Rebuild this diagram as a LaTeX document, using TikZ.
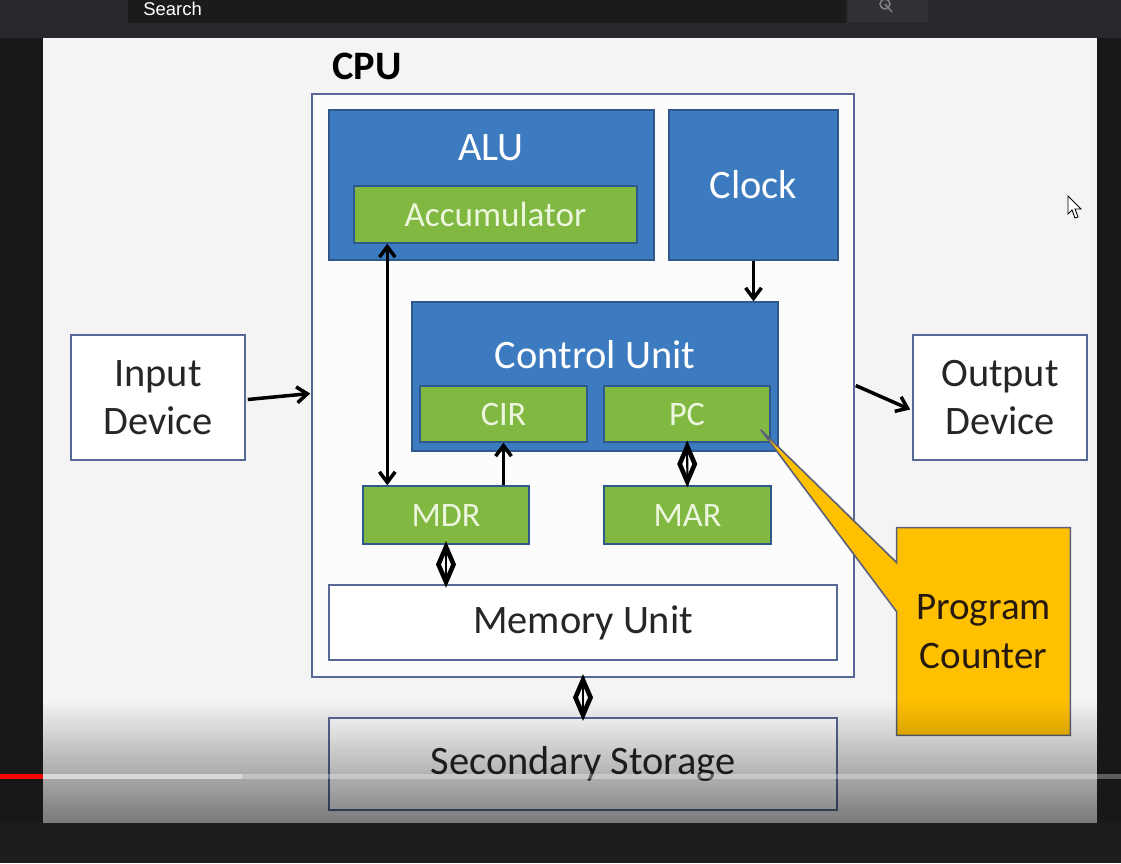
\documentclass[tikz,border=0pt]{standalone}
\usepackage{fontspec}
\setmainfont{Carlito}
\newfontfamily\uifont{Liberation Sans}
\usepackage{tikz}
\usetikzlibrary{shapes.geometric, arrows.meta, positioning, calc, fadings}
\definecolor{ytdark}{RGB}{29,29,31}
\definecolor{ytside}{RGB}{24,24,24}
\definecolor{ytbar}{RGB}{40,40,44}
\definecolor{searchbg}{RGB}{27,27,27}
\definecolor{searchbtn}{RGB}{50,50,54}
\definecolor{slidebg}{RGB}{244,244,244}
\definecolor{unitblue}{RGB}{61,123,192}
\definecolor{unitedge}{RGB}{47,88,140}
\definecolor{reggreen}{RGB}{128,184,66}
\definecolor{regtext}{RGB}{236,246,220}
\definecolor{plainedge}{RGB}{88,104,150}
\definecolor{noteorange}{RGB}{255,192,0}
\definecolor{noteedge}{RGB}{90,96,120}
\tikzfading[name=videofade, top color=transparent!100, bottom color=transparent!50]

\begin{document}
\begin{tikzpicture}[x=0.02cm, y=-0.02cm,
  unitbox/.style={rectangle, draw=unitedge, line width=0.8pt, fill=unitblue,
                  text=white, font=\fontsize{23}{27.5}\selectfont, inner sep=0pt},
  regbox/.style={rectangle, draw=unitedge, line width=0.8pt, fill=reggreen,
                 text=regtext, font=\fontsize{19.5}{23}\selectfont, inner sep=0pt},
  plainbox/.style={rectangle, draw=plainedge, line width=0.9pt, fill=white,
                   text=black!85, font=\fontsize{23}{27.5}\selectfont,
                   align=center, inner sep=0pt},
  arr/.style={-{Straight Barb[length=6pt, width=9pt]}, line width=2pt},
  dblarr/.style={{Straight Barb[length=6pt, width=9pt]}-{Straight Barb[length=6pt, width=9pt]},
                 line width=2pt},
  link/.style={line width=1.2pt},
  busmark/.style={diamond, draw, line width=2.6pt, minimum width=0.34cm,
                  minimum height=0.74cm, inner sep=0pt}
]
\useasboundingbox (0,0) rectangle (1121,863);

%% ── Video player frame ──────────────────────────────────────────────────
\fill[ytdark] (0,0) rectangle (1121,863);
\fill[ytbar] (0,0) rectangle (1121,38);
\fill[ytside] (0,38) rectangle (43,823);
\fill[ytside] (1097,38) rectangle (1121,823);
\fill[searchbg] (128,0) rectangle (846,23);
\fill[searchbtn] (848,0) rectangle (928,22);
\node[anchor=base west, text=white, font=\uifont\fontsize{10.5}{12}\selectfont, inner sep=0pt]
  (search) at (143,15) {Search};
\draw[gray, line width=0.9pt] (885,4) circle (0.1cm) -- (892,12);

%% ── Slide ───────────────────────────────────────────────────────────────
\fill[slidebg] (43,38) rectangle (1097,823);
\node[font=\bfseries\fontsize{23}{27}\selectfont] (cpulbl) at (367,66) {CPU};
\node[plainbox, fill=white!70!slidebg, minimum width=10.84cm, minimum height=11.66cm]
  (cpu) at (583,385.5) {};

\node[unitbox, minimum width=6.5cm, minimum height=3.0cm] (alu) at (491.5,185) {};
\node[text=white, font=\fontsize{23}{27.5}\selectfont] (alulbl) at (491,148) {ALU};
\node[regbox, font=\fontsize{20}{24}\selectfont, minimum width=5.66cm, minimum height=1.14cm]
  (acc) at (495.5,214.5) {Accumulator};
\node[unitbox, minimum width=3.38cm, minimum height=3.0cm] (clock) at (753.5,185) {Clock};

\node[unitbox, minimum width=7.32cm, minimum height=2.98cm] (cu) at (595,376.5) {};
\node[text=white, font=\fontsize{23}{27.5}\selectfont] (culbl) at (595,355) {Control Unit};
\node[regbox, minimum width=3.34cm, minimum height=1.12cm] (cir) at (503.5,414) {CIR};
\node[regbox, minimum width=3.32cm, minimum height=1.12cm] (pc)  at (687,414) {PC};

\node[regbox, minimum width=3.32cm, minimum height=1.16cm] (mdr) at (446,515) {MDR};
\node[regbox, minimum width=3.34cm, minimum height=1.16cm] (mar) at (687.5,515) {MAR};

\node[plainbox, minimum width=10.16cm, minimum height=1.5cm] (mem) at (583,622.5) {Memory Unit};
\node[plainbox, minimum width=10.16cm, minimum height=1.84cm] (sec) at (583,764) {Secondary Storage};

\node[plainbox, minimum width=3.48cm, minimum height=2.5cm] (in)  at (158,397.5) {Input\\Device};
\node[plainbox, minimum width=3.48cm, minimum height=2.5cm] (out) at (1000,397.5) {Output\\Device};

%% ── Connections ─────────────────────────────────────────────────────────
\coordinate (accdown) at ($(mdr.north west)+(25,0)$);
\draw[dblarr] (accdown |- acc.south) -- (accdown);
\draw[arr] (mdr.north -| cir.south) -- (cir.south);
\draw[arr] (clock.south) -- (clock.south |- cu.north);
\draw[link] (pc.south) -- (mar.north) node[midway, busmark] {};
\draw[link] (mdr.south) -- (mdr.south |- mem.north) node[midway, busmark] {};
\draw[link] (cpu.south) -- (sec.north) node[midway, busmark] {};
\draw[arr] ($(in.east)+(2,2)$) -- ($(cpu.west)+(-1,8)$);
\draw[arr] ($(cpu.east)+(1,0)$) -- ($(out.west)+(-2,12)$);

%% ── Callout ─────────────────────────────────────────────────────────────
\node[rectangle, fill=noteorange, text=black!80!brown, minimum width=3.46cm,
      minimum height=4.14cm, align=center, inner sep=0pt,
      font=\fontsize{22.2}{27.5}\selectfont] (pcnote) at (983.5,631.5) {Program\\Counter};
\coordinate (pctip) at ($(pc.south east)+(-10,-13)$);
\fill[noteorange] (pctip) -- ($(pcnote.north west)+(1,35)$) -- ($(pcnote.north west)+(1,84)$) -- cycle;
\draw[noteedge, line width=0.9pt] (pcnote.north west) -- (pcnote.north east)
  -- (pcnote.south east) -- (pcnote.south west) -- ($(pcnote.north west)+(0,84)$)
  -- (pctip) -- ($(pcnote.north west)+(0,35)$) -- cycle;

%% ── Mouse pointer ───────────────────────────────────────────────────────
\filldraw[fill=white, draw=black, line width=0.5pt]
  (1068,196) -- (1068,214) -- (1072,210) -- (1075,218) -- (1078,217)
  -- (1075,209) -- (1081,209) -- cycle;

%% ── Player overlay ──────────────────────────────────────────────────────
\fill[black, path fading=videofade] (43,700) rectangle (1097,823);
\fill[white, opacity=0.3] (0,774) rectangle (1121,779);
\fill[black!15] (43,774) rectangle (242,779);
\fill[red] (0,774) rectangle (43,779);

\end{tikzpicture}
\end{document}
